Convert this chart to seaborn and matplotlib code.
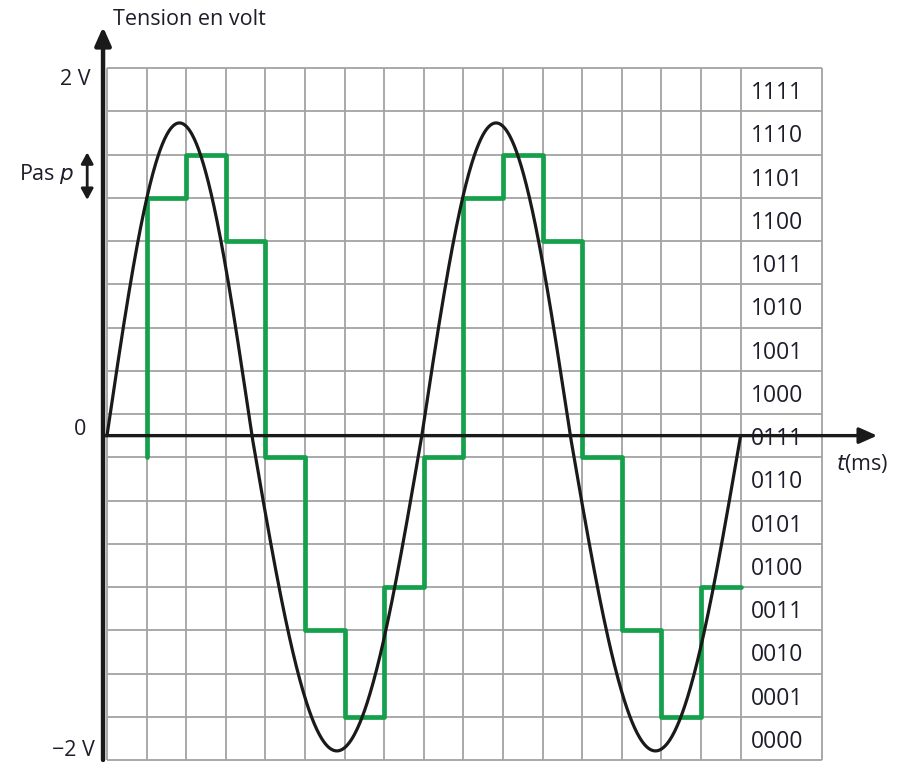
import numpy as np
import pandas as pd
import matplotlib
matplotlib.use('Agg')
import matplotlib.pyplot as plt
import seaborn as sns

# 4-bit codes, one per grid row, bottom to top
CODES = ['0000', '0001', '0010', '0011', '0100', '0101', '0110', '0111',
         '1000', '1001', '1010', '1011', '1100', '1101', '1110', '1111']

# analog signal (grid units: columns / rows)
# zero crossings of the drawn curve and the height of each half-wave
ZERO_CROSSINGS = [0, 3.66, 7.95, 11.7, 16]
LOBE_HEIGHTS = [7.23, -7.29, 7.23, -7.29]
SIGNAL_ZERO = 7.5
N_COLUMNS = 16

# sampled + quantized signal (column index, row level)
SAMPLE_T = [1, 1, 2, 3, 4, 5, 6, 7, 8, 9, 10, 11, 12, 13, 14, 15, 16]
SAMPLE_LEVEL = [7, 13, 14, 12, 7, 3, 1, 4, 7, 13, 14, 12, 7, 3, 1, 4, 4]

TEXT = '#1d1d2b'
GRID = '#a3a3a3'
GREEN = '#16a04b'
BLACK = '#1a1a1a'

sns.set_theme(style='white')
plt.rcParams['font.family'] = ['Open Sans', 'DejaVu Sans']

# pixel layout: column = 39.6 px starting at x=107, row = 43.25 px up from y=760
W, H = 897, 762
CW, RH, X0, Y0 = 39.6, 43.25, 107, 760

fig = plt.figure(figsize=(W / 100, H / 100), dpi=100)
ax = fig.add_axes([0, 0, 1, 1])
ax.set_xlim(-X0 / CW, (W - X0) / CW)
ax.set_ylim((Y0 - H) / RH, Y0 / RH)
ax.axis('off')

n_rows = len(CODES)
right_edge = N_COLUMNS + 2.05
# grid, including the code column on the right
ax.vlines(range(N_COLUMNS + 1), 0, n_rows, color=GRID, lw=1.3, zorder=1)
ax.vlines(right_edge, 0, n_rows, color=GRID, lw=1.3, zorder=1)
ax.hlines(range(n_rows + 1), 0, right_edge, color=GRID, lw=1.3, zorder=1)

for i, code in enumerate(CODES):
    ax.text(16.25, i + 0.42, code, fontsize=16.5, color=TEXT, va='center', ha='left', zorder=2)

# analog signal: one half-sine per lobe between consecutive zero crossings
parts = []
for z0, z1, h in zip(ZERO_CROSSINGS[:-1], ZERO_CROSSINGS[1:], LOBE_HEIGHTS):
    t = np.linspace(z0, z1, 200)
    parts.append(pd.DataFrame({'t': t, 'v': SIGNAL_ZERO + h * np.sin(np.pi * (t - z0) / (z1 - z0))}))
sine = pd.concat(parts, ignore_index=True)
sns.lineplot(data=sine, x='t', y='v', ax=ax, color=BLACK, lw=2.3,
             estimator=None, sort=False, zorder=4)

# digitised signal
steps = pd.DataFrame({'t': SAMPLE_T, 'level': SAMPLE_LEVEL})
sns.lineplot(data=steps, x='t', y='level', ax=ax, color=GREEN, lw=3.4,
             drawstyle='steps-post', estimator=None, sort=False, zorder=3)

# axes with arrows
ax.annotate('', xy=(19.45, SIGNAL_ZERO), xytext=(-0.1, SIGNAL_ZERO),
            arrowprops=dict(arrowstyle='-|>,head_length=0.9,head_width=0.4',
                            color=BLACK, lw=2.4, shrinkA=0, shrinkB=0), zorder=5)
ax.annotate('', xy=(-0.1, 16.95), xytext=(-0.1, 0),
            arrowprops=dict(arrowstyle='-|>,head_length=0.9,head_width=0.4',
                            color=BLACK, lw=3.2, shrinkA=0, shrinkB=0), zorder=5)

# step arrow "Pas p"
ax.annotate('', xy=(-0.5, 14.05), xytext=(-0.5, 12.95),
            arrowprops=dict(arrowstyle='<|-|>,head_length=0.55,head_width=0.3',
                            color=BLACK, lw=2.0, shrinkA=0, shrinkB=0), zorder=5)

fs = 15.5
ax.text(0.15, 17.12, 'Tension en volt', fontsize=fs, color=TEXT, ha='left', va='center')
ax.text(-0.42, 15.73, '2 V', fontsize=fs, color=TEXT, ha='right', va='center')
ax.text(-0.52, 7.65, '0', fontsize=fs, color=TEXT, ha='right', va='center')
ax.text(-0.3, 0.22, '\u22122 V', fontsize=fs, color=TEXT, ha='right', va='center')
ax.text(-0.82, 13.55, 'Pas $\\it{p}$', fontsize=fs, color=TEXT, ha='right', va='center')
ax.text(18.4, 6.85, '$\\it{t}$(ms)', fontsize=fs, color=TEXT, ha='left', va='center')

fig.savefig('out.png', dpi=100)
